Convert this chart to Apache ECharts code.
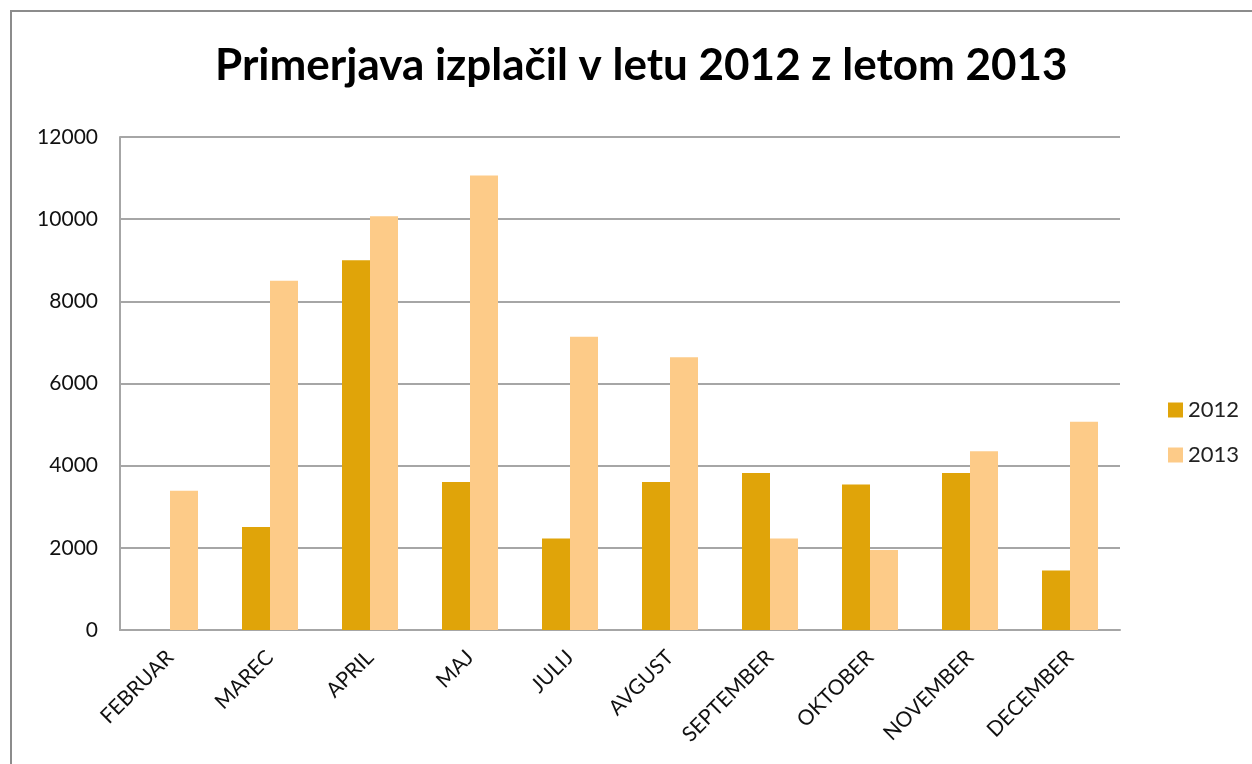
<!DOCTYPE html>
<html>
<head>
<meta charset="utf-8">
<script src="https://cdn.jsdelivr.net/npm/echarts@6/dist/echarts.min.js"></script>
<style>
html, body { margin: 0; padding: 0; background: #fff; }
#chart-container { width: 1252px; height: 764px; }
</style>
</head>
<body>
<div id="chart-container"></div>
<script>
var months = ['FEBRUAR', 'MAREC', 'APRIL', 'MAJ', 'JULIJ', 'AVGUST', 'SEPTEMBER', 'OKTOBER', 'NOVEMBER', 'DECEMBER'];
var values2012 = [0, 2510, 9000, 3600, 2230, 3600, 3820, 3540, 3820, 1450];
var values2013 = [3390, 8500, 10070, 11060, 7140, 6640, 2230, 1950, 4350, 5070];

var dom = document.getElementById('chart-container');
var myChart = echarts.init(dom, null, {
    renderer: 'canvas',
    useDirtyRect: false
});

var option = {
    animation: false,
    color: ['#E0A409', '#FDCB88'],
    textStyle: { fontFamily: 'Lato' },
    title: {
        text: 'Primerjava izplačil v letu 2012 z letom 2013',
        left: 210,
        top: 39,
        textStyle: {
            fontFamily: 'Lato',
            fontSize: 44,
            fontWeight: 'bold',
            color: '#000'
        }
    },
    legend: {
        orient: 'vertical',
        left: 1163,
        top: 394,
        itemWidth: 15,
        itemHeight: 15,
        itemGap: 23,
        icon: 'rect',
        textStyle: { fontSize: 22, color: '#222', fontFamily: 'Lato' }
    },
    grid: {
        left: 120,
        right: 132,
        top: 137,
        bottom: 134,
        containLabel: false
    },
    xAxis: {
        type: 'category',
        data: months,
        axisLine: { show: true, lineStyle: { color: '#a6a6a6', width: 2 } },
        axisTick: { show: false },
        axisLabel: {
            rotate: 45,
            fontSize: 21,
            color: '#111',
            margin: 24,
            interval: 0
        }
    },
    yAxis: {
        type: 'value',
        min: 0,
        max: 12000,
        interval: 2000,
        axisLine: { show: true, lineStyle: { color: '#a6a6a6', width: 2 } },
        axisTick: { show: false },
        axisLabel: {
            fontSize: 21,
            color: '#111',
            margin: 22,
            formatter: function (v) { return String(v); }
        },
        splitLine: { lineStyle: { color: '#a6a6a6', width: 2 } }
    },
    series: [
        {
            name: '2012',
            type: 'bar',
            data: values2012,
            barGap: '0%',
            barCategoryGap: '44%'
        },
        {
            name: '2013',
            type: 'bar',
            data: values2013,
            barGap: '0%',
            barCategoryGap: '44%'
        }
    ],
    graphic: [
        {
            type: 'rect',
            shape: { x: 11, y: 11, width: 1260, height: 780 },
            style: { fill: 'none', stroke: '#8c8c8c', lineWidth: 2 },
            silent: true
        }
    ]
};

myChart.setOption(option);
window.addEventListener('resize', myChart.resize);
</script>
</body>
</html>
